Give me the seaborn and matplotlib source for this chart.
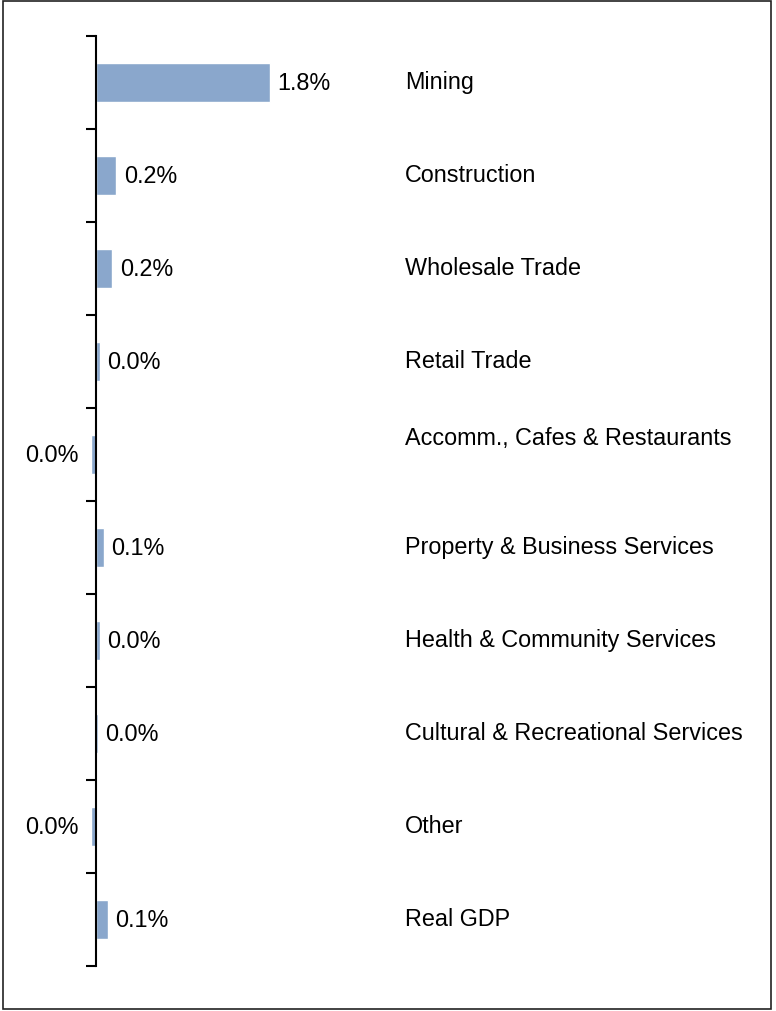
import numpy as np
import pandas as pd
import seaborn as sns
import matplotlib.pyplot as plt
from matplotlib.patches import Rectangle

# data (percent)
industries = ['Mining', 'Construction', 'Wholesale Trade', 'Retail Trade',
              'Accomm., Cafes & Restaurants', 'Property & Business Services',
              'Health & Community Services', 'Cultural & Recreational Services',
              'Other', 'Real GDP']
values = [1.80, 0.21, 0.17, 0.04, -0.05, 0.08, 0.04, 0.02, -0.05, 0.12]
value_labels = ['1.8%', '0.2%', '0.2%', '0.0%', '0.0%', '0.1%', '0.0%', '0.0%', '0.0%', '0.1%']

df = pd.DataFrame({'industry': industries, 'value': values})

sns.set_style('white')
plt.rcParams['font.family'] = ['Liberation Sans', 'DejaVu Sans']
plt.rcParams['text.color'] = 'black'

fig = plt.figure(figsize=(7.76, 10.12), dpi=100)
ax = fig.add_axes([10 / 776, 45 / 1012, 756 / 776, 930 / 1012])

sns.barplot(data=df, x='value', y='industry', orient='h', color='#8aa7cc',
            saturation=1, width=0.41, ax=ax)

# zero line at pixel 96, 1.8% at pixel 270
ppu = (270 - 96) / 1.8
ax.set_xlim((10 - 96) / ppu, (766 - 96) / ppu)
ax.set_ylim(len(industries) - 0.5, -0.5)

for s in ['top', 'right', 'bottom']:
    ax.spines[s].set_visible(False)
ax.spines['left'].set_position(('data', 0))
ax.spines['left'].set_color('black')
ax.spines['left'].set_linewidth(1.5)
ax.spines['left'].set_zorder(5)

ax.set_xticks([])
ax.set_yticks(np.arange(-0.5, len(industries), 1.0))
ax.set_yticklabels([])
ax.tick_params(axis='y', left=True, direction='out', length=7, width=1.5, color='black')
ax.set_xlabel('')
ax.set_ylabel('')

fs = 16.8

# value labels next to the bars
for patch, lab, v in zip(ax.patches, value_labels, values):
    y = patch.get_y() + patch.get_height() / 2
    if v >= 0:
        ax.annotate(lab, (v, y), xytext=(5.5, 0), textcoords='offset points',
                    ha='left', va='center', fontsize=fs, color='black')
    else:
        ax.annotate(lab, (v, y), xytext=(-9, 0), textcoords='offset points',
                    ha='right', va='center', fontsize=fs, color='black')

# category names on the right
for i, name in enumerate(industries):
    dy = 12 if name.startswith('Accomm') else 1
    ax.annotate(name, ((405 - 96) / ppu, i), xytext=(0, dy), textcoords='offset points',
                ha='left', va='center', fontsize=fs, color='black')

# frame around the whole picture
fig.patches.append(Rectangle((3 / 776, 2 / 1012), 768 / 776, 1008 / 1012,
                             transform=fig.transFigure, fill=False,
                             edgecolor='#222222', linewidth=1.2))

fig.savefig('out.png', dpi=100)
